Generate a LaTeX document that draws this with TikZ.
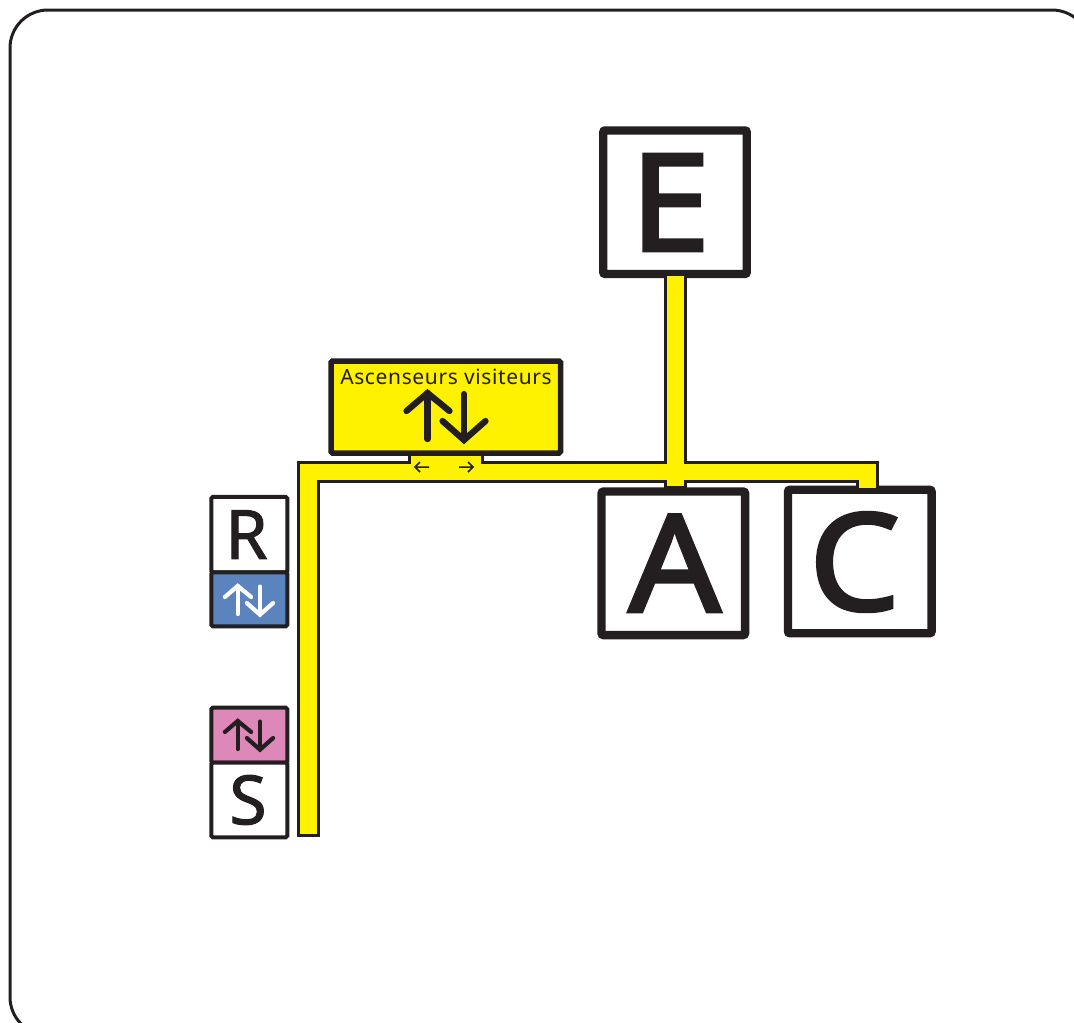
\documentclass[tikz,border=0pt]{standalone}
\usepackage{fontspec}
\setmainfont{Noto Sans}
\newfontfamily\signfont[RawFeature={embolden=2.5;extend=1.07}]{Noto Sans}
\newfontfamily\floorfont[RawFeature={embolden=1.4}]{Noto Sans}
\definecolor{signblack}{HTML}{231F20}
\definecolor{signyellow}{HTML}{FFF200}
\definecolor{signblue}{HTML}{5B84BE}
\definecolor{signpink}{HTML}{DE87B9}
\tikzset{
  bigbox/.style={draw=signblack,fill=white,line width=8.3pt,rounded corners=2pt,inner sep=0pt,outer sep=0pt,
    minimum width=143.6pt,minimum height=143.6pt},
  bigletter/.style={text=signblack,inner sep=0pt,font=\signfont\fontsize{135}{135}\selectfont},
  smallbox/.style={draw=signblack,fill=white,line width=4pt,rounded corners=1.5pt,inner sep=0pt,outer sep=0pt,
    minimum width=76pt},
  smallletter/.style={text=signblack,inner sep=0pt,font=\floorfont\fontsize{68}{68}\selectfont},
  updown/.pic={
    \draw[line cap=round] (-19,23) -- (-19,-23);
    \draw[line cap=round,line join=miter] (-40,-5) -- (-19,-23) -- (3,-5);
    \draw[line cap=round] (17.5,-22) -- (17.5,24);
    \draw[line cap=round,line join=miter] (-4,5) -- (17.5,24) -- (39,5);
  }
}

\begin{document}
\begin{tikzpicture}[x=1pt,y=-1pt]
    \useasboundingbox (0,0) rectangle (1074,1023);
    \clip (0,0) rectangle (1074,1023);
    \draw[signblack,line width=3pt,rounded corners=38pt] (10,10) rectangle (1090,1035);

    \node[bigbox] (e) at (675,202.2) {};
    \node[bigletter] (eletter) at (670.3,202.5) {E};
    \node[bigbox] (a) at (673.3,563.3) {};
    \node[bigletter] (aletter) at (674.7,563.3) {A};
    \node[bigbox] (c) at (859.8,561.5) {};
    \node[bigletter] (cletter) at (854.5,562) {C};

    \draw[signblack,line width=3pt,fill=signyellow,line join=miter] (298,835) -- (298,462) -- (409,462) -- (409,453)
      -- (482,453) -- (482,462) -- (665,462) -- (665,274.5) -- (685,274.5) -- (685,462) -- (877,462) -- (877,489)
      -- (857,489) -- (857,481) -- (685,481) -- (685,487) -- (665,487) -- (665,481) -- (318,481) -- (318,835) -- cycle;

    \node[draw=signblack,fill=signyellow,line width=5.5pt,rounded corners=1.5pt,minimum width=229.5pt,minimum height=92pt,
      inner sep=0pt,outer sep=0pt] (lifts) at (445.8,407) {};
    \node[text=signblack,font=\addfontfeature{LetterSpace=3}\fontsize{21}{21}\selectfont,inner sep=0pt] (liftslabel) at (446,377) {Ascenseurs visiteurs};
    \pic[signblack,line width=6.3pt] at (446.5,416) {updown};

    \draw[signblack,line width=1.5pt] (415,467) -- (429,467) (420,462) -- (415,467) -- (420,472);
    \draw[signblack,line width=1.5pt] (459,467) -- (473,467) (468,462) -- (473,467) -- (468,472);

    \node[smallbox,minimum height=75.3pt] (r) at (249.3,534.6) {};
    \node[smallletter] (rletter) at (246.5,534.6) {R};
    \node[smallbox,fill=signblue,minimum height=54pt] (rlift) at (249.3,599.3) {};
    \pic[white,line width=4.2pt,scale=.61] at (249.3,600) {updown};

    \node[smallbox,fill=signpink,minimum height=55pt] (slift) at (249.3,735.2) {};
    \pic[signblack,line width=4.2pt,scale=.61] at (249.3,735) {updown};
    \node[smallbox,minimum height=74.6pt] (s) at (249.3,800) {};
    \node[smallletter] (sletter) at (248,800) {S};
  \end{tikzpicture}
\end{document}
